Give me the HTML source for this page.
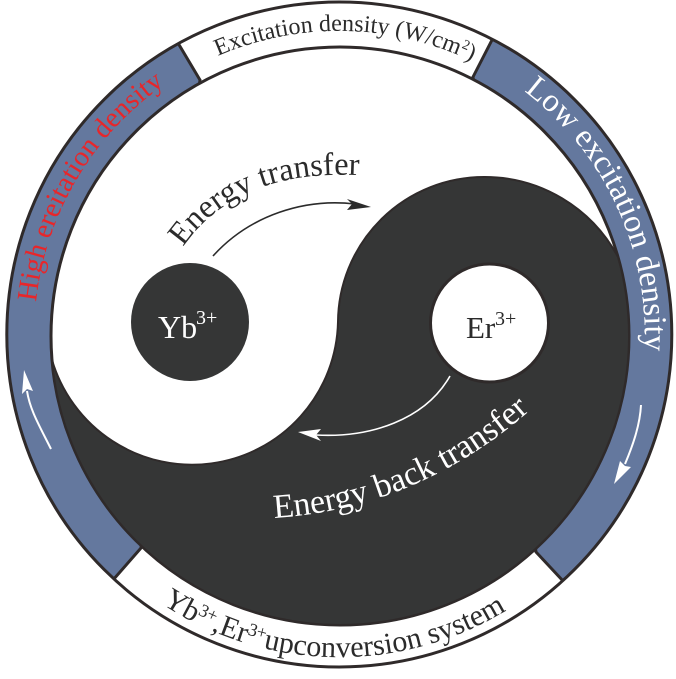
<!DOCTYPE html>
<html>
<head>
<meta charset="utf-8">
<style>
html,body{margin:0;padding:0;background:#fff;}
svg{display:block;}
text{font-family:"Liberation Serif",serif;}
</style>
</head>
<body>
<svg width="676" height="679" viewBox="0 0 676 679" xmlns="http://www.w3.org/2000/svg">
<defs>
<clipPath id="outerClip"><circle cx="339.300" cy="334.500" r="333.500"/></clipPath>
<path id="pTop" d="M218,56 A305,305 0 0 1 535,102" fill="none"/>
<path id="pLow" d="M524,91 A306,306 0 0 1 640,388" fill="none"/>
<path id="pHigh" d="M36,302 A305,305 0 0 1 235,48" fill="none"/>
<path id="pBot" d="M162,604 A322,322 0 0 0 586,542" fill="none"/>
<path id="pET" d="M183,247 Q240,165 372,176" fill="none"/>
<path id="pEB" d="M274,518 Q430,508 550,392" fill="none"/>
</defs>
<rect width="676" height="679" fill="#fff"/>

<!-- outer disc -->
<circle cx="339.300" cy="334.500" r="333.500" fill="#fff"/>
<!-- blue sectors with dividers -->
<g clip-path="url(#outerClip)">
<polygon points="200,80 178,43 156,6 -20,-20 -20,700 85,612 113,580 141,548" fill="#64789e" stroke="#2f2a2a" stroke-width="3"/>
<polygon points="473,77 493,38 512,1 700,-20 700,700 592,614 564,582 536,552" fill="#64789e" stroke="#2f2a2a" stroke-width="3"/>
</g>
<circle cx="339.300" cy="334.500" r="332.500" fill="none" stroke="#2f2a2a" stroke-width="3"/>
<!-- inner ring -->
<circle cx="340" cy="336" r="289" fill="#fff" stroke="#2f2a2a" stroke-width="3"/>

<!-- yin-yang dark shape -->
<path d="M618,257 A289,289 0 1 1 52,360 A146,146 0 0 0 338,322 A146,146 0 0 1 484,177 A151,151 0 0 1 618,257 Z" fill="#353636" stroke="#2f2a2a" stroke-width="2"/>

<!-- circles -->
<circle cx="190" cy="322" r="59" fill="#353636"/>
<circle cx="489.500" cy="323" r="59" fill="#fff" stroke="#2f2a2a" stroke-width="3"/>

<text x="158" y="338" font-size="32" fill="#fff">Yb</text>
<text x="196" y="324" font-size="20" fill="#fff">3+</text>
<text x="466" y="338" font-size="31" fill="#2b2b2b">Er</text>
<text x="495" y="325" font-size="20" fill="#2b2b2b">3+</text>

<!-- black arrow -->
<path d="M213,256 C250,215 305,198 355,204" fill="none" stroke="#2b2b2b" stroke-width="1.6"/>
<path d="M371,207 L347,199 L352,204 L347,210 Z" fill="#2b2b2b"/>
<!-- white arrow -->
<path d="M450,376 C425,420 370,438 316,435" fill="none" stroke="#fff" stroke-width="1.6"/>
<path d="M298,432 L321,429 L316,435 L321,441 Z" fill="#fff"/>
<!-- left ring arrow -->
<path d="M51,449 C39,425 30,410 27,391" fill="none" stroke="#fff" stroke-width="2"/>
<path d="M24,370 L22,394 L27,389 L33,391 Z" fill="#fff"/>
<!-- right ring arrow -->
<path d="M641,405 C640,425 633,445 625,464" fill="none" stroke="#fff" stroke-width="2"/>
<path d="M614,484 L620,461 L625,466 L631,467 Z" fill="#fff"/>

<!-- curved labels -->
<text font-size="24" fill="#2b2b2b"><textPath href="#pTop">Excitation density (W/cm<tspan font-size="14" dy="-8">2</tspan><tspan dy="8">)</tspan></textPath></text>
<text font-size="32.500" fill="#fff"><textPath href="#pLow">Low excitation density</textPath></text>
<text font-size="28.400" fill="#e8262a"><textPath href="#pHigh">High ereitation density</textPath></text>
<text font-size="30" fill="#2b2b2b"><textPath href="#pBot">Yb<tspan font-size="18" dy="-9">3+</tspan><tspan dy="9">,Er</tspan><tspan font-size="18" dy="-9">3+</tspan><tspan dy="9">upconversion system</tspan></textPath></text>
<text font-size="32.300" fill="#2b2b2b"><textPath href="#pET">Energy transfer</textPath></text>
<text font-size="34" fill="#fff"><textPath href="#pEB">Energy back transfer</textPath></text>
</svg>
</body>
</html>
